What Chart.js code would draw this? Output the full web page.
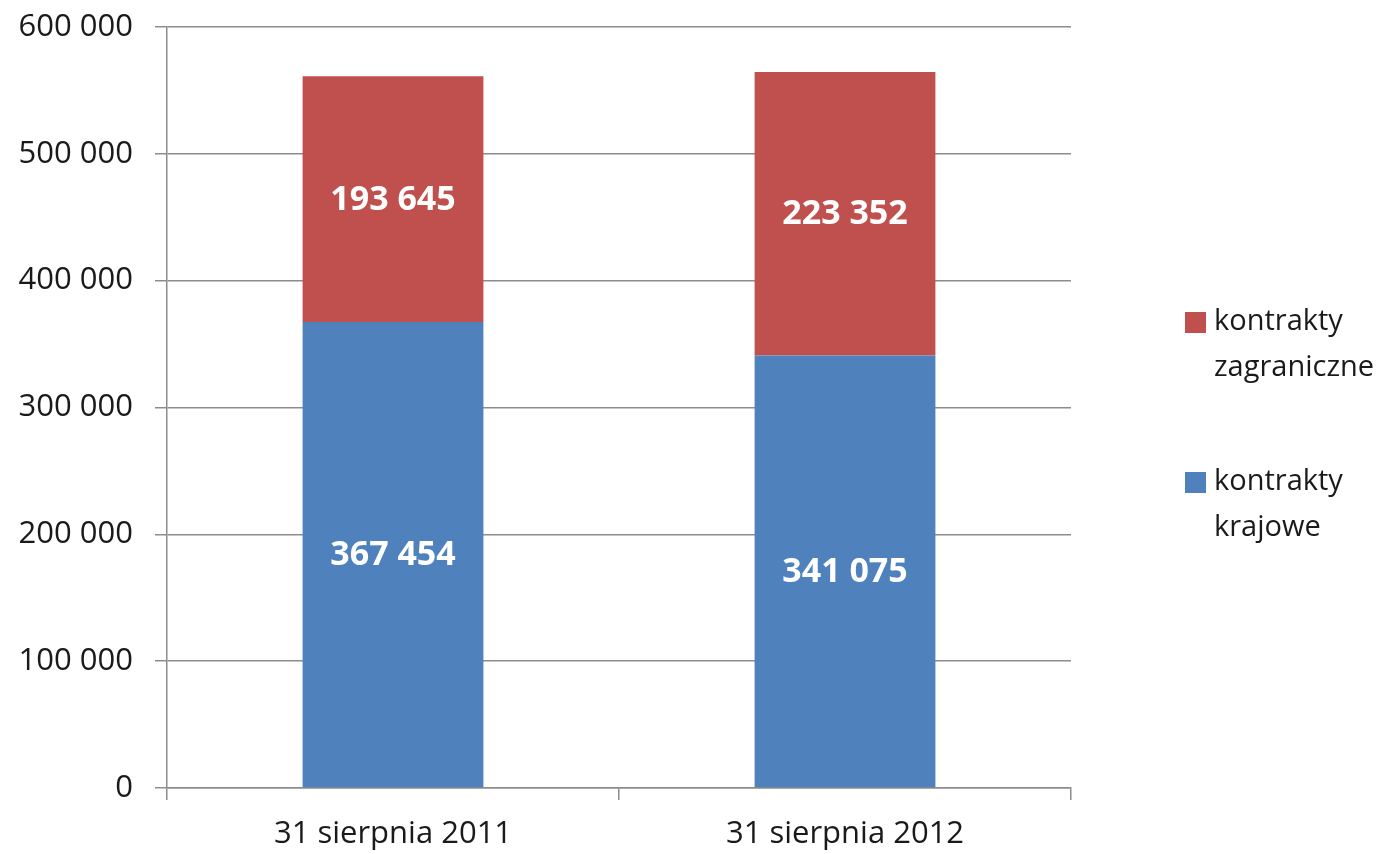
<!DOCTYPE html>
<html>
<head>
<meta charset="utf-8">
<script src="https://cdn.jsdelivr.net/npm/chart.js@4.4.1/dist/chart.umd.min.js"></script>
<style>
  html, body { margin: 0; padding: 0; background: #ffffff; }
  #wrap { width: 1389px; height: 854px; position: relative; }
</style>
</head>
<body>
<div id="wrap"><canvas id="c" width="1389" height="854"></canvas></div>
<script>
const categories = ['31 sierpnia 2011', '31 sierpnia 2012'];
const krajowe = [367454, 341075];
const zagraniczne = [193645, 223352];
const seriesNames = [['kontrakty', 'krajowe'], ['kontrakty', 'zagraniczne']];
const yTicks = [0, 100000, 200000, 300000, 400000, 500000, 600000];

const FONT = '"Open Sans", Lato, sans-serif';
const fmt = v => String(v).replace(/\B(?=(\d{3})+(?!\d))/g, ' ');

const labelsPlugin = {
  id: 'segLabels',
  afterDatasetsDraw(chart) {
    const ctx = chart.ctx;
    ctx.save();
    ctx.fillStyle = '#ffffff';
    ctx.font = 'bold 34px ' + FONT;
    ctx.textAlign = 'center';
    ctx.textBaseline = 'middle';
    chart.data.datasets.forEach((ds, i) => {
      const meta = chart.getDatasetMeta(i);
      meta.data.forEach((bar, j) => {
        const y = (bar.y + bar.base) / 2 + 1;
        ctx.fillText(fmt(ds.data[j]), bar.x, y);
      });
    });
    ctx.restore();
  }
};

const legendPlugin = {
  id: 'customLegend',
  afterDraw(chart) {
    const ctx = chart.ctx;
    ctx.save();
    ctx.font = '29px ' + FONT;
    ctx.textBaseline = 'middle';
    ctx.textAlign = 'left';
    const items = [1, 0];
    const tops = [322, 482];
    items.forEach((di, k) => {
      const ds = chart.data.datasets[di];
      const cy = tops[k];
      ctx.fillStyle = ds.backgroundColor;
      ctx.fillRect(1185, cy - 10, 21, 21);
      ctx.fillStyle = '#1a1a1a';
      ds.label.forEach((line, li) => {
        ctx.fillText(line, 1214, cy + li * 46);
      });
    });
    ctx.restore();
  }
};

new Chart(document.getElementById('c'), {
  type: 'bar',
  data: {
    labels: categories,
    datasets: [
      { label: seriesNames[0], data: krajowe, backgroundColor: '#4F81BD', borderWidth: 0 },
      { label: seriesNames[1], data: zagraniczne, backgroundColor: '#C0504D', borderWidth: 0 }
    ]
  },
  options: {
    responsive: false,
    animation: false,
    devicePixelRatio: 1,
    layout: { padding: { top: 27, right: 318, left: 0, bottom: 0 } },
    plugins: { legend: { display: false }, tooltip: { enabled: false } },
    datasets: { bar: { categoryPercentage: 1, barPercentage: 0.4 } },
    scales: {
      x: {
        stacked: true,
        afterFit(s) { s.height = 66; s.paddingLeft = 0; s.paddingRight = 0; },
        grid: { display: true, offset: true, drawOnChartArea: false, drawTicks: true, tickLength: 12, color: '#8c8c8c', lineWidth: 1.5 },
        border: { display: true, color: '#8c8c8c', width: 1.5 },
        ticks: { color: '#1a1a1a', font: { family: FONT, size: 31 }, padding: 16 }
      },
      y: {
        stacked: true,
        min: 0, max: 600000,
        afterFit(s) { s.width = 167; s.paddingTop = 0; s.paddingBottom = 0; },
        afterBuildTicks(s) { s.ticks = yTicks.map(v => ({ value: v })); },
        grid: { color: '#8c8c8c', lineWidth: 1.5, tickLength: 12 },
        border: { display: true, color: '#8c8c8c', width: 1.5 },
        ticks: { color: '#1a1a1a', font: { family: FONT, size: 31 }, padding: 22, callback: v => fmt(v) }
      }
    }
  },
  plugins: [labelsPlugin, legendPlugin]
});
</script>
</body>
</html>
